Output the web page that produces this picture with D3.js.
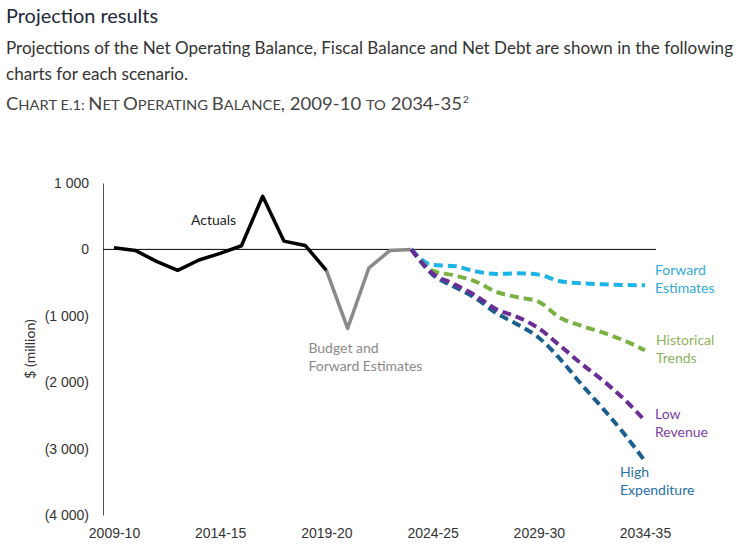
<!DOCTYPE html>
<meta charset="utf-8">
<style>
body { margin: 0; background: #fff; font-family: Lato, "Open Sans", sans-serif; }
.axis text { font-size: 14px; fill: #333; }
.lbl { font-size: 14px; }
</style>
<body>
<div id="chart"></div>
<script src="https://d3js.org/d3.v7.min.js"></script>
<script>
// year labels along the x axis
var years = ["2009-10","2010-11","2011-12","2012-13","2013-14","2014-15","2015-16","2016-17","2017-18","2018-19",
             "2019-20","2020-21","2021-22","2022-23","2023-24","2024-25","2025-26","2026-27","2027-28","2028-29",
             "2029-30","2030-31","2031-32","2032-33","2033-34","2034-35"];
var xTicks = ["2009-10","2014-15","2019-20","2024-25","2029-30","2034-35"];
var yTicks = [1000, 0, -1000, -2000, -3000, -4000];

// $ million
var actualYears = years.slice(0, 11);
var actuals = [25, -15, -180, -315, -160, -60, 55, 800, 125, 60, -315];
var budgetYears = years.slice(10, 15);
var budget = [-315, -1190, -280, -15, 0];

var projYears = years.slice(14);
var forwardEst = [0, -235, -250, -330, -370, -360, -380, -480, -510, -525, -535, -540];
var historical = [0, -320, -390, -480, -640, -720, -790, -1030, -1150, -1250, -1370, -1520];
var lowRevenue = [0, -360, -520, -690, -900, -1020, -1190, -1450, -1720, -1970, -2250, -2580];
var highExpend = [0, -380, -560, -730, -960, -1130, -1330, -1650, -2030, -2390, -2770, -3190];

var width = 739, height = 551;

var svg = d3.select("#chart").append("svg")
    .attr("width", width)
    .attr("height", height);

// heading text
svg.append("text").attr("x", 6).attr("y", 23)
    .style("font-size", "20px").style("fill", "#1e2738")
    .attr("textLength", 152).attr("lengthAdjust", "spacingAndGlyphs")
    .text("Projection results");
svg.append("text").attr("x", 6).attr("y", 54)
    .style("font-size", "16.5px").style("fill", "#333")
    .attr("textLength", 727).attr("lengthAdjust", "spacingAndGlyphs")
    .text("Projections of the Net Operating Balance, Fiscal Balance and Net Debt are shown in the following");
svg.append("text").attr("x", 6).attr("y", 80)
    .style("font-size", "16.5px").style("fill", "#333")
    .attr("textLength", 182).attr("lengthAdjust", "spacingAndGlyphs")
    .text("charts for each scenario.");

// chart caption in small caps
var ct = svg.append("text").attr("x", 6).attr("y", 110)
    .style("fill", "#444")
    .attr("textLength", 456).attr("lengthAdjust", "spacingAndGlyphs");
[["C", 17], ["HART E.1: ", 13.5], ["N", 17], ["ET ", 13.5], ["O", 17], ["PERATING ", 13.5],
 ["B", 17], ["ALANCE", 13.5], [", 2009-10 ", 17], ["TO", 13.5], [" 2034-35", 17]].forEach(function(p) {
    ct.append("tspan").style("font-size", p[1] + "px").text(p[0]);
});
svg.append("text").attr("x", 463).attr("y", 103)
    .style("fill", "#444").style("font-size", "10px").text("2");

var x = d3.scalePoint().domain(years).range([114, 645]);
var y = d3.scaleLinear().domain([-4000, 1000]).range([515, 183]);

// y axis
var yAxis = svg.append("g")
    .attr("class", "axis")
    .attr("transform", "translate(103,0)")
    .call(d3.axisLeft(y).tickValues(yTicks).tickSize(0).tickPadding(14)
        .tickFormat(function(d) {
            var s = d3.format(",")(Math.abs(d)).replace(/,/g, " ");
            return d < 0 ? "(" + s + ")" : s;
        }));
yAxis.select(".domain").attr("stroke", "#555");

svg.append("text")
    .attr("class", "lbl")
    .attr("transform", "translate(35," + y(-1500) + ") rotate(-90)")
    .style("text-anchor", "middle").style("fill", "#333")
    .text("$ (million)");

// x labels
var xAxis = svg.append("g")
    .attr("class", "axis")
    .attr("transform", "translate(0,515)")
    .call(d3.axisBottom(x).tickValues(xTicks).tickSize(0).tickPadding(13));
xAxis.select(".domain").remove();

// zero line
svg.append("line")
    .attr("x1", 103).attr("x2", 656)
    .attr("y1", y(0)).attr("y2", y(0))
    .attr("stroke", "#000").attr("stroke-width", 1);

function series(ys, vals, color, dashed) {
    var line = d3.line()
        .x(function(d, i) { return x(ys[i]); })
        .y(function(d) { return y(d); });
    if (dashed) line.curve(d3.curveMonotoneX);
    var p = svg.append("path")
        .datum(vals)
        .attr("d", line)
        .attr("fill", "none")
        .attr("stroke", color)
        .attr("stroke-width", dashed ? 4 : 3.5)
        .attr("stroke-linejoin", "round");
    if (dashed) p.attr("stroke-dasharray", "9,5");
}

series(budgetYears, budget, "#8a8a8a", false);
series(actualYears, actuals, "#000", false);
series(projYears, forwardEst, "#1db3e6", true);
series(projYears, historical, "#7bb143", true);
series(projYears, highExpend, "#1a5f8e", true);
series(projYears, lowRevenue, "#6a2d96", true);

// annotations
function label(lines, lx, ly, color) {
    var t = svg.append("text").attr("class", "lbl").style("fill", color);
    lines.forEach(function(s, i) {
        t.append("tspan").attr("x", lx).attr("y", ly + i * 18).text(s);
    });
}
label(["Actuals"], x("2013-14") - 8, 225, "#222");
label(["Budget and", "Forward Estimates"], x("2019-20") - 18, 353, "#8a8a8a");
label(["Forward", "Estimates"], x("2034-35") + 10, 275, "#2fa9dc");
label(["Historical", "Trends"], x("2034-35") + 11, 345, "#8db35a");
label(["Low", "Revenue"], x("2034-35") + 10, 419, "#7a3ea6");
label(["High", "Expenditure"], x("2034-35") - 25, 477, "#2a6fa6");
</script>
</body>
